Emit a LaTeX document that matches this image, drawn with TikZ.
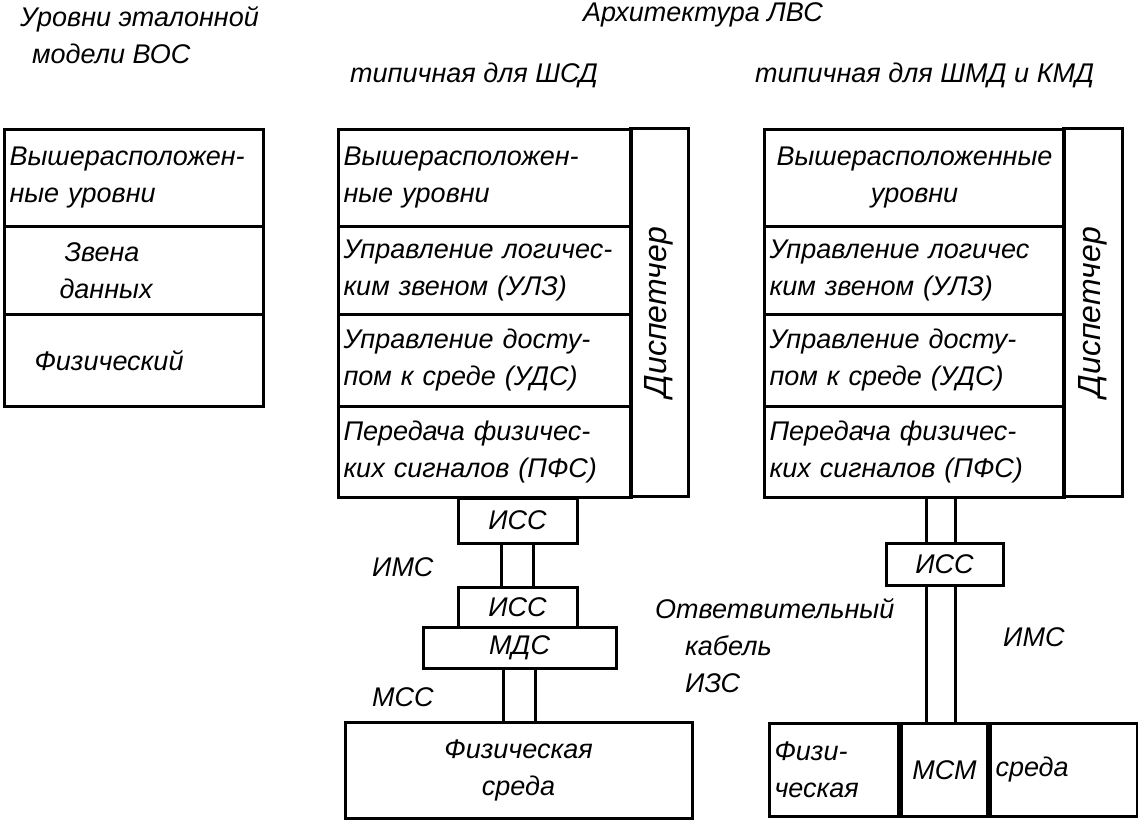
\documentclass[tikz,border=0pt]{standalone}
\usepackage{fontspec}
\setmainfont{Liberation Sans}
\usetikzlibrary{positioning,calc}
\tikzstyle{layer} = [draw, line width=3pt, inner sep=5pt, align=left, anchor=north west]
\tikzstyle{unit} = [draw, line width=3pt, inner sep=2pt, align=center]
\tikzstyle{cable} = [line width=3pt]
\tikzstyle{lbl} = [anchor=west, inner sep=0pt, align=left]

\begin{document}
\begin{tikzpicture}[x=1pt, y=-1pt, every node/.style={font=\fontsize{27}{37}\selectfont\itshape}]

\useasboundingbox (0,0) rectangle (1138,822);

% Headings
\node[lbl] (hdOsi) at (20,35) {Уровни эталонной\\\hspace*{12pt}модели ВОС};
\node[lbl] (hdArch) at (583,15) {Архитектура ЛВС};
\node[lbl] (hdShsd) at (350,75) {типичная для ШСД};
\node[lbl] (hdShmd) at (755,75) {типичная для ШМД и КМД};

% OSI reference levels
\node[layer, text width=249pt, minimum height=97pt] (osiA) at (3,128) {Вышерасположен-\\ные уровни};
\node[layer, text width=249pt, minimum height=88pt] (osiB) at (3,225) {\hspace*{55pt}Звена\\\hspace*{50pt}данных};
\node[layer, text width=249pt, minimum height=92pt] (osiC) at (3,313) {\hspace*{25pt}Физический};

% LAN architecture for ShSD
\node[layer, text width=283pt, minimum height=97pt] (shsA) at (337,128) {Вышерасположен-\\ные уровни};
\node[layer, text width=283pt, minimum height=88pt] (shsB) at (337,225) {Управление логичес-\\ким звеном (УЛЗ)};
\node[layer, text width=283pt, minimum height=92pt] (shsC) at (337,313) {Управление досту-\\пом к среде (УДС)};
\node[layer, text width=283pt, minimum height=91pt] (shsD) at (337,405) {Передача физичес-\\ких сигналов (ПФС)};
\node[unit, rotate=90, minimum width=368pt, minimum height=58pt, font=\fontsize{32}{37}\selectfont\itshape] (dspA) at (659,312) {Диспетчер};

% LAN architecture for ShMD and KMD
\node[layer, text width=290pt, minimum height=97pt, align=center] (shbA) at (763,128) {Вышерасположенные\\уровни};
\node[layer, text width=290pt, minimum height=88pt] (shbB) at (763,225) {Управление логичес\\ким звеном (УЛЗ)};
\node[layer, text width=290pt, minimum height=92pt] (shbC) at (763,313) {Управление досту-\\пом к среде (УДС)};
\node[layer, text width=290pt, minimum height=91pt] (shbD) at (763,405) {Передача физичес-\\ких сигналов (ПФС)};
\node[unit, rotate=90, minimum width=368pt, minimum height=59pt, font=\fontsize{32}{37}\selectfont\itshape] (dspB) at (1092.5,312) {Диспетчер};

% Attachment units, ShSD
\node[unit, minimum width=119pt, minimum height=45pt] (iscA) at (517.5,520.5) {ИСС};
\node[unit, minimum width=119pt, minimum height=40pt] (iscB) at (517.5,607) {ИСС};
\node[unit, minimum width=193pt, minimum height=41pt] (mds) at (519.5,647.5) {МДС};
\node[unit, minimum width=347pt, minimum height=96pt] (medA) at (518.5,770) {Физическая\\среда};

% Attachment units, ShMD and KMD
\node[unit, minimum width=117pt, minimum height=42pt] (iscC) at (944.5,564) {ИСС};
\node[layer, text width=119pt, minimum height=93pt] (medB) at (768,722) {Физи-\\ческая};
\node[unit, anchor=west, minimum width=86pt, minimum height=93pt] (msm) at (medB.east) {МСМ};
\node[layer, anchor=west, text width=137pt, minimum height=93pt] (medC) at (msm.east) {среда};

% Cables
\foreach \dx in {-16,16} {
  \draw[cable] ([xshift=\dx pt]iscA.south) -- ([xshift=\dx pt]iscB.north);
  \draw[cable] ([xshift=\dx pt]mds.south) -- ([xshift=\dx pt]mds.south |- medA.north);
}
\foreach \dx in {-18,11} {
  \draw[cable] ([xshift=\dx pt]iscC.north) -- ([xshift=\dx pt]iscC.north |- shbD.south);
  \draw[cable] ([xshift=\dx pt]iscC.south) -- ([xshift=\dx pt]iscC.south |- msm.north);
}

% Cable labels
\node[lbl] (ims1) at (372,567) {ИМС};
\node[lbl] (mss) at (372,697) {МСС};
\node[lbl] (izs) at (655,646) {Ответвительный\\\hspace*{30pt}кабель\\\hspace*{30pt}ИЗС};
\node[lbl] (ims2) at (1003,637) {ИМС};

\end{tikzpicture}
\end{document}
